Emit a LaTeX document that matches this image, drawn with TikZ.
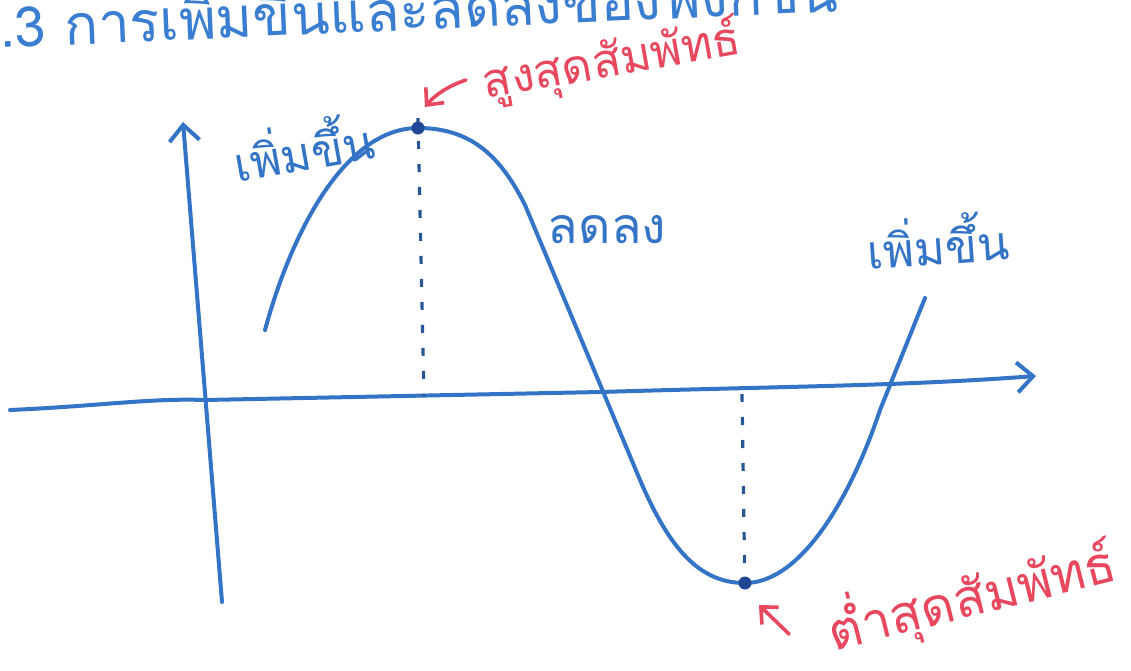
\documentclass[tikz,border=0pt]{standalone}
\usepackage{fontspec}
\newfontfamily\thaifont[Script=Thai]{Loma}
\usetikzlibrary{arrows.meta}
\definecolor{penblue}{RGB}{52,116,198}
\definecolor{headblue}{RGB}{58,126,210}
\definecolor{penred}{RGB}{232,72,94}
\definecolor{dotblue}{RGB}{30,72,150}
\tikzset{
  pen/.style={draw=penblue,line width=4pt,line cap=round,line join=round},
  axis/.style={pen,-{Straight Barb[length=16pt,width=30pt,line width=4pt]}},
  guide/.style={draw=penblue!75!black,line width=3.2pt,dash pattern=on 8pt off 15pt},
  redarrow/.style={draw=penred,line width=3.6pt,line cap=round,-{Straight Barb[length=13pt,width=24pt,line width=3.6pt]}},
  bluelabel/.style={text=penblue,font=\thaifont\fontsize{47}{52}\selectfont,inner sep=0pt},
  redlabel/.style={text=penred,font=\thaifont\fontsize{47}{52}\selectfont,inner sep=0pt},
  ptdot/.style={fill=dotblue,circle,inner sep=0pt,minimum size=13pt}
}
\begin{document}
\begin{tikzpicture}[x=1pt,y=-1pt]
\useasboundingbox (0,0) rectangle (1131,670);
\fill[white] (0,0) rectangle (1131,670);
% header (cut off at top)
\node[text=headblue,font=\thaifont\fontsize{56}{60}\selectfont,anchor=base west,inner sep=0pt,rotate=2.5] (head) at (0,48) {.3 การเพิ่มขึ้นและลดลงของฟังก์ชัน};
% points
\coordinate (start) at (265,330);
\coordinate (max) at (418,128);
\coordinate (d1) at (525,205);
\coordinate (d2) at (640,480);
\coordinate (min) at (745,583);
\coordinate (u1) at (880,410);
\coordinate (end) at (925,298);
\coordinate (ytop) at (183,122);
\coordinate (ybot) at (222,602);
\coordinate (xl) at (10,410);
\coordinate (xo) at (205,400);
\coordinate (xm) at (600,392);
\coordinate (xr) at (1036,376);
\coordinate (maxfoot) at (424,396);
\coordinate (mintop) at (742,394);
% axes
\draw[axis] (ybot) -- (ytop);
\draw[axis] (xl) .. controls (100,406) and (150,398) .. (xo) -- (xm) .. controls (800,386) and (900,386) .. (xr);
% guides
\draw[guide] ([yshift=10pt]max) -- (maxfoot);
\draw[guide] (mintop) -- ([yshift=-12pt]min);
% curve
\draw[pen] (start) .. controls (295,220) and (350,128) .. (max)
  .. controls (470,128) and (500,155) .. (d1) -- (d2)
  .. controls (670,550) and (700,583) .. (min)
  .. controls (800,583) and (850,500) .. (u1) -- (end);
\node[ptdot] (maxdot) at (max) {};
\node[ptdot] (mindot) at (min) {};
% labels
\node[bluelabel,rotate=10] (inc1) at (303,146) {เพิ่มขึ้น};
\node[bluelabel,font=\thaifont\fontsize{50}{54}\selectfont] (dec) at (607,230) {ลดลง};
\node[bluelabel,rotate=4] (inc2) at (938,240) {เพิ่มขึ้น};
\node[redlabel,rotate=10] (relmax) at (612,62) {สูงสุดสัมพัทธ์};
\node[redlabel,font=\thaifont\fontsize{52}{58}\selectfont,rotate=14] (relmin) at (972,596) {ต่ำสุดสัมพัทธ์};
\coordinate (rmtail) at (466,80);
\coordinate (rmtip) at (425,107);
\coordinate (rntail) at (789,634);
\coordinate (rntip) at (759,605);
\draw[redarrow] (rmtail) .. controls (448,86) and (435,95) .. (rmtip);
\draw[redarrow] (rntail) -- (rntip);
\end{tikzpicture}
\end{document}
